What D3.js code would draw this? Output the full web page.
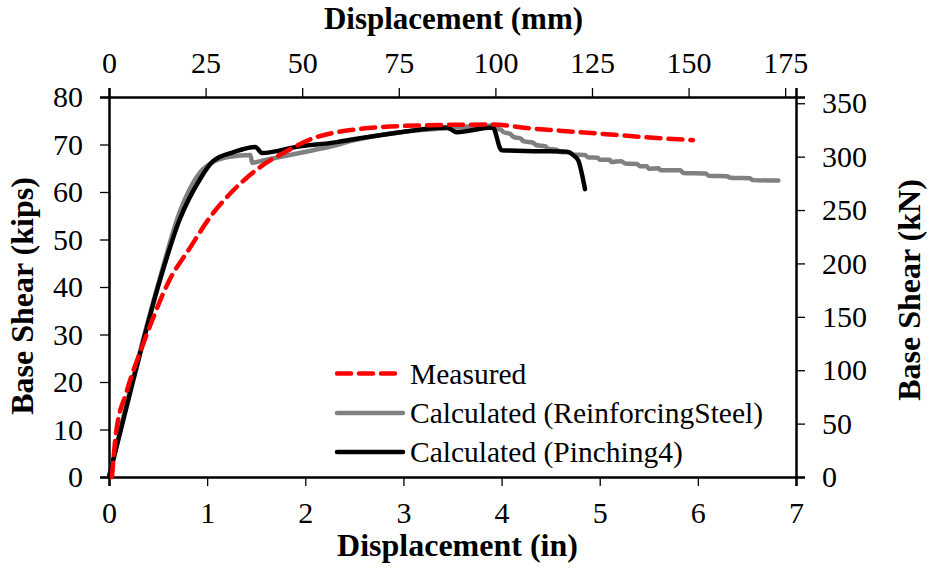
<!DOCTYPE html>
<html><head><meta charset="utf-8">
<script src="https://cdn.jsdelivr.net/npm/d3@7"></script>
<style>body{margin:0;background:#fff}svg{display:block}text{font-family:"Liberation Serif","Times New Roman",serif;fill:#000}</style>
</head><body><svg id="c" width="929" height="569"></svg>
<script>
// Data (displacement in inches, base shear in kips)
const measuredX = [0.03,0.07,0.18,0.33,0.45,0.6,0.83,1.03,1.26,1.51,1.81,2.08,2.32,2.53,3.14,3.91,4.29,4.73,5.18,5.63,5.95];
const measuredY = [0,9,18,27,33.5,40.8,48.4,54.7,60.2,64.8,68.6,71.3,72.6,73.2,74.0,74.2,73.4,72.7,72.0,71.3,70.9];
const steelX = [0,0.245,0.52,0.72,0.93,1.06,1.23,1.44,1.46,1.5,2.08,2.32,2.46,2.97,3.44,3.9,3.95,4.0,4.02,4.09,4.12,4.2,4.22,4.32,4.35,4.45,4.47,4.56,4.6,4.7,4.72,4.85,4.88,4.98,5.0,5.1,5.12,5.22,5.26,5.38,5.41,5.48,5.5,5.6,5.62,5.82,5.85,6.08,6.11,6.3,6.33,6.53,6.56,6.82];
const steelY = [0,20.8,42,55.8,64.2,66.3,67.4,67.8,66.1,66.3,68.8,69.9,70.7,72.6,73.4,74.0,73.4,73.0,72.6,72.2,71.6,71.2,70.7,70.4,69.9,69.6,69.1,68.9,68.4,68.3,67.9,67.8,67.3,67.2,66.8,66.8,66.3,66.5,66.0,65.9,65.4,65.4,64.9,65.0,64.6,64.6,64.0,63.9,63.4,63.3,63.0,62.9,62.5,62.4];
const pinchX = [0,0.245,0.52,0.72,0.93,1.06,1.27,1.49,1.56,1.91,2.32,2.46,2.97,3.44,3.54,3.91,4.0,4.32,4.66,4.74,4.78,4.85];
const pinchY = [0,20.2,41.5,54.2,62.8,66.5,68.4,69.5,68.2,69.5,70.5,71.0,72.6,73.6,72.6,73.6,68.8,68.6,68.5,67.6,66.7,60.6];
const xTicksIn = [0,1,2,3,4,5,6,7];
const xTicksMm = [0,25,50,75,100,125,150,175];
const yTicksKips = [0,10,20,30,40,50,60,70,80];
const yTicksKN = [0,50,100,150,200,250,300,350];
const legendLabels = ["Measured","Calculated (ReinforcingSteel)","Calculated (Pinching4)"];

const svg = d3.select("#c");
const L=109,R=796,T=97,B=477;
const x = d3.scaleLinear().domain([0,7]).range([L,R]);
const y = d3.scaleLinear().domain([0,80]).range([B,T]);
const xMm = d3.scaleLinear().domain([0,7*25.4]).range([L,R]);
const yKN = d3.scaleLinear().domain([0,80*4.44822]).range([B,T]);

function styleAxis(g){
  g.attr("font-family",null).attr("font-size",null);
  g.select(".domain").attr("stroke","#000").attr("stroke-width",2.5);
  g.selectAll(".tick line").attr("stroke","#000").attr("stroke-width",1.3);
  g.selectAll(".tick text").style("font-size","30px");
}
svg.append("g").attr("transform",`translate(0,${B})`)
  .call(d3.axisBottom(x).tickValues(xTicksIn).tickSizeOuter(0).tickSize(9).tickPadding(16).tickFormat(d3.format("d")))
  .call(styleAxis);
svg.append("g").attr("transform",`translate(0,${T})`)
  .call(d3.axisTop(xMm).tickValues(xTicksMm).tickSizeOuter(0).tickSize(9).tickPadding(15).tickFormat(d3.format("d")))
  .call(styleAxis);
svg.append("g").attr("transform",`translate(${L},0)`)
  .call(d3.axisLeft(y).tickValues(yTicksKips).tickSizeOuter(0).tickSize(9).tickPadding(17).tickFormat(d3.format("d")))
  .call(styleAxis);
svg.append("g").attr("transform",`translate(${R},0)`)
  .call(d3.axisRight(yKN).tickValues(yTicksKN).tickSizeOuter(0).tickSize(9).tickPadding(17).tickFormat(d3.format("d")))
  .call(styleAxis);

const smooth = d3.line().x(d=>x(d[0])).y(d=>y(d[1])).curve(d3.curveMonotoneX);
const zip=(a,b)=>a.map((v,i)=>[v,b[i]]);
svg.append("path").datum(zip(steelX,steelY)).attr("d",smooth).attr("fill","none")
  .attr("stroke","#808080").attr("stroke-width",4.5).attr("stroke-linejoin","round").attr("stroke-linecap","round");
svg.append("path").datum(zip(pinchX,pinchY)).attr("d",smooth).attr("fill","none")
  .attr("stroke","#000").attr("stroke-width",4.5).attr("stroke-linejoin","round").attr("stroke-linecap","round");
svg.append("path").datum(zip(measuredX,measuredY)).attr("d",smooth).attr("fill","none")
  .attr("stroke","#ff0000").attr("stroke-width",4.5).attr("stroke-dasharray","14,8").attr("stroke-linecap","round");

// titles
svg.append("text").attr("x",(L+R)/2+5).attr("y",549).attr("text-anchor","middle").attr("dominant-baseline","middle")
  .style("font-size","32px").style("font-weight","bold").text("Displacement (in)");
svg.append("text").attr("x",(L+R)/2+1).attr("y",29).attr("text-anchor","middle")
  .style("font-size","31px").style("font-weight","bold").text("Displacement (mm)");
svg.append("text").attr("transform","translate(26,296) rotate(-90)").attr("text-anchor","middle").attr("dominant-baseline","middle")
  .style("font-size","32px").style("font-weight","bold").text("Base Shear (kips)");
svg.append("text").attr("transform","translate(913,290) rotate(-90)").attr("text-anchor","middle").attr("dominant-baseline","middle")
  .style("font-size","32px").style("font-weight","bold").text("Base Shear (kN)");

// legend
const lg = svg.append("g");
const styles=[{c:"#ff0000",d:"14,8"},{c:"#808080",d:null},{c:"#000",d:null}];
const ly=[373.5,413,452];
legendLabels.forEach((t,i)=>{
  const l=lg.append("line").attr("x1",337).attr("x2",403).attr("y1",ly[i]).attr("y2",ly[i])
    .attr("stroke",styles[i].c).attr("stroke-width",4.5).attr("stroke-linecap","round");
  if(styles[i].d) l.attr("stroke-dasharray",styles[i].d);
  lg.append("text").attr("x",410).attr("y",ly[i]+10).style("font-size","29.5px").text(t);
});
</script></body></html>
